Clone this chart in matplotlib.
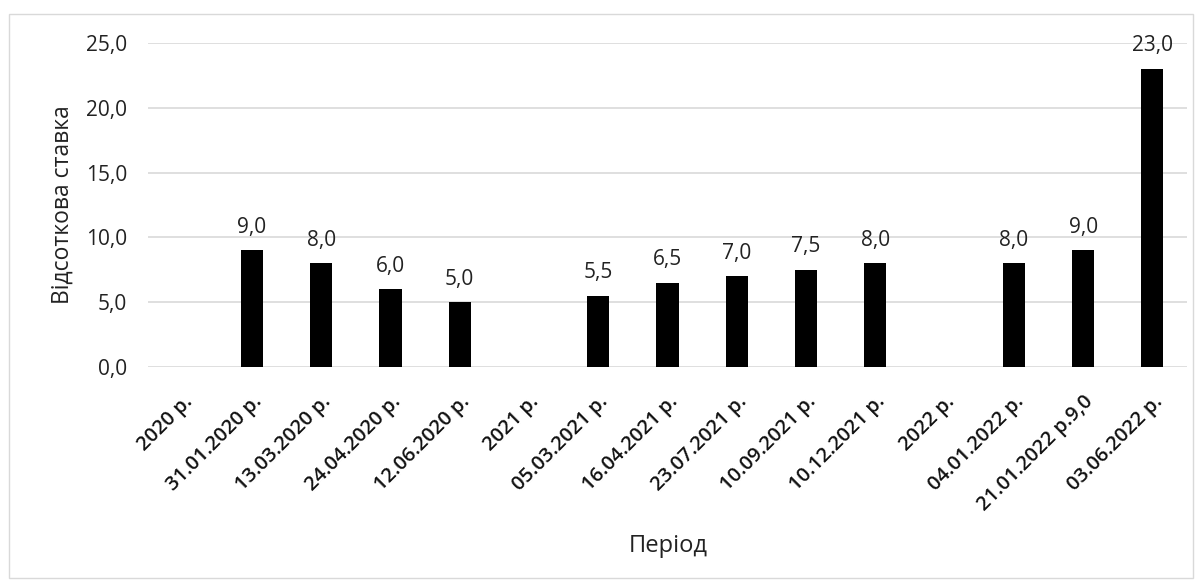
import numpy as np
import matplotlib
matplotlib.use("Agg")
import matplotlib.pyplot as plt
from matplotlib.patches import Rectangle

categories = ["2020 р.", "31.01.2020 р.", "13.03.2020 р.", "24.04.2020 р.", "12.06.2020 р.",
              "2021 р.", "05.03.2021 р.", "16.04.2021 р.", "23.07.2021 р.", "10.09.2021 р.",
              "10.12.2021 р.", "2022 р.", "04.01.2022 р.", "21.01.2022 р.9,0", "03.06.2022 р."]
rates = [np.nan, 9.0, 8.0, 6.0, 5.0,
         np.nan, 5.5, 6.5, 7.0, 7.5,
         8.0, np.nan, 8.0, 9.0, 23.0]
yticks = [0, 5, 10, 15, 20, 25]

W, H = 1203, 586
fig = plt.figure(figsize=(W / 100, H / 100), dpi=100)
fig.patch.set_facecolor("white")
fig.add_artist(Rectangle((9 / W, 1 - 578 / H), (1193 - 9) / W, (578 - 14) / H,
                         transform=fig.transFigure, fill=False,
                         edgecolor="#d9d9d9", linewidth=1.0))

left, right, top, bottom = 148, 1187, 43, 367
ax = fig.add_axes([left / W, 1 - bottom / H, (right - left) / W, (bottom - top) / H])

x = np.arange(len(categories))
ax.bar(x, rates, width=0.32, color="black", zorder=3)
for xi, v in zip(x, rates):
    if not np.isnan(v):
        ax.annotate(f"{v:.1f}".replace(".", ","), (xi, v), xytext=(0, 9),
                    textcoords="offset points", ha="center", va="bottom",
                    fontsize=15, family="Open Sans", color="#222222")

ax.set_xlim(-0.5, len(categories) - 0.5)
ax.set_ylim(0, 25)
ax.set_yticks(yticks)
ax.set_yticklabels([f"{t:.1f}".replace(".", ",") for t in yticks],
                   fontsize=15, family="Open Sans", color="#222222")
ax.set_xticks(x)
ax.set_xticklabels(categories, rotation=45, ha="right", rotation_mode="anchor",
                   fontsize=14.5, family="Open Sans", fontweight="semibold", color="#111111")
ax.tick_params(axis="both", length=0)
ax.tick_params(axis="y", pad=15)
ax.tick_params(axis="x", pad=18)
ax.grid(axis="y", color="#d9d9d9", linewidth=1.2, zorder=0)
for s in ax.spines.values():
    s.set_visible(False)

ax.set_ylabel("Відсоткова ставка", fontsize=16.5, family="Open Sans", color="#222222", labelpad=8)
fig.text(668 / W, 1 - 546 / H, "Період", ha="center", va="center",
         fontsize=17, family="Open Sans", color="#222222")

fig.savefig("out.png", dpi=100, facecolor="white")
